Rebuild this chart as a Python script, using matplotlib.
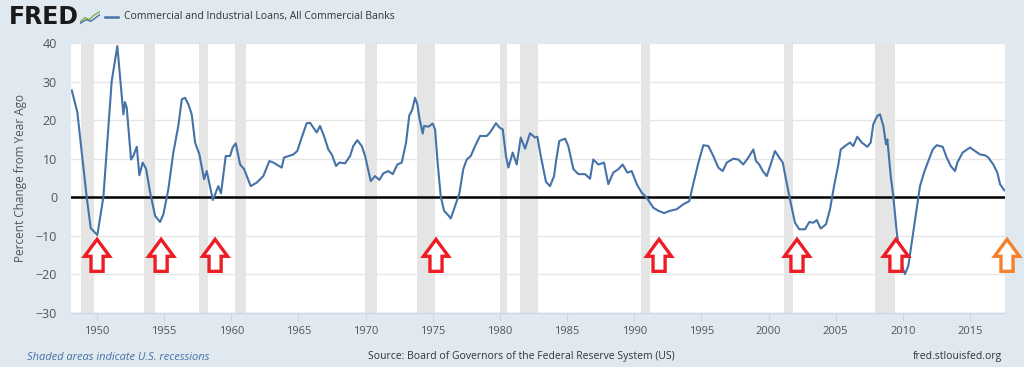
import matplotlib
matplotlib.use("Agg")
import matplotlib.pyplot as plt
from matplotlib.patches import Polygon
from matplotlib.lines import Line2D

# ---- data (decimal year, percent change from year ago) ----
years = [1948.12, 1948.53, 1949.23, 1949.53, 1950.02, 1950.47, 1951.09, 1951.51, 1951.96, 1952.08,
         1952.21, 1952.53, 1952.70, 1952.96, 1953.15, 1953.40, 1953.65, 1953.95, 1954.32, 1954.69,
         1954.94, 1955.31, 1955.68, 1956.05, 1956.31, 1956.55, 1956.80, 1957.05, 1957.30, 1957.62,
         1957.97, 1958.17, 1958.62, 1959.03, 1959.23, 1959.58, 1959.90, 1960.10, 1960.33, 1960.65,
         1960.95, 1961.44, 1961.89, 1962.38, 1962.83, 1963.13, 1963.75, 1963.92, 1964.62, 1964.91,
         1965.24, 1965.61, 1965.86, 1966.36, 1966.60, 1966.90, 1967.22, 1967.48, 1967.80, 1968.04,
         1968.47, 1968.84, 1969.08, 1969.38, 1969.71, 1969.96, 1970.38, 1970.70, 1971.02, 1971.32,
         1971.69, 1972.02, 1972.36, 1972.69, 1973.01, 1973.25, 1973.48, 1973.68, 1973.85, 1974.00,
         1974.25, 1974.35, 1974.67, 1975.00, 1975.17, 1975.34, 1975.59, 1975.84, 1976.16, 1976.34,
         1976.58, 1976.98, 1977.27, 1977.53, 1977.83, 1978.15, 1978.52, 1979.02, 1979.26, 1979.71,
         1979.96, 1980.21, 1980.45, 1980.63, 1980.95, 1981.25, 1981.55, 1981.87, 1982.24, 1982.61,
         1982.79, 1983.04, 1983.43, 1983.73, 1984.03, 1984.18, 1984.42, 1984.85, 1985.09, 1985.47,
         1985.84, 1986.34, 1986.71, 1986.95, 1987.33, 1987.75, 1988.07, 1988.44, 1988.82, 1989.14,
         1989.49, 1989.81, 1990.19, 1990.56, 1990.93, 1991.42, 1991.80, 1992.22, 1992.67, 1993.16,
         1993.66, 1994.10, 1994.36, 1994.78, 1995.15, 1995.52, 1995.89, 1996.26, 1996.59, 1996.89,
         1997.38, 1997.75, 1998.12, 1998.50, 1998.87, 1999.07, 1999.31, 1999.57, 1999.87, 2000.16,
         2000.48, 2000.80, 2001.06, 2001.40, 2001.65, 2001.97, 2002.29, 2002.72, 2003.04, 2003.34,
         2003.59, 2003.89, 2004.28, 2004.58, 2004.88, 2005.20, 2005.38, 2005.70, 2006.07, 2006.31,
         2006.61, 2006.94, 2007.36, 2007.61, 2007.80, 2008.10, 2008.30, 2008.55, 2008.75, 2008.85,
         2009.10, 2009.29, 2009.55, 2009.84, 2010.16, 2010.41, 2010.74, 2011.04, 2011.28, 2011.58,
         2011.90, 2012.23, 2012.52, 2012.97, 2013.27, 2013.57, 2013.89, 2014.06, 2014.46, 2015.00,
         2015.37, 2015.75, 2016.12, 2016.37, 2016.74, 2017.04, 2017.24, 2017.56]
values = [27.7, 22.1, 0.0, -8.0, -9.8, 0.0, 30.1, 39.2, 21.5, 24.7,
          23.2, 9.8, 10.7, 13.1, 5.7, 9.0, 7.4, 1.3, -4.8, -6.4,
          -4.4, 2.1, 11.6, 18.5, 25.4, 25.8, 24.1, 21.5, 14.2, 11.1,
          4.7, 6.8, -0.7, 2.9, 1.0, 10.7, 10.7, 12.9, 14.0, 8.5,
          7.3, 2.9, 3.8, 5.5, 9.4, 9.0, 7.7, 10.3, 11.1, 12.0,
          15.5, 19.2, 19.3, 16.8, 18.5, 15.9, 12.4, 11.1, 8.1, 9.0,
          8.8, 10.7, 13.3, 14.8, 13.3, 10.7, 4.2, 5.5, 4.5, 6.2,
          6.8, 6.0, 8.5, 9.0, 14.2, 21.2, 22.8, 25.8, 24.1, 20.6,
          16.5, 18.5, 18.3, 19.1, 17.6, 9.8, 0.3, -3.5, -4.7, -5.5,
          -3.1, 1.0, 7.3, 9.8, 10.7, 13.3, 15.9, 15.9, 16.8, 19.2,
          18.1, 17.6, 10.7, 7.7, 11.6, 8.5, 15.5, 12.6, 16.6, 15.5,
          15.7, 10.7, 4.0, 2.9, 5.5, 9.4, 14.6, 15.2, 13.3, 7.3,
          6.0, 6.0, 4.8, 9.8, 8.5, 9.0, 3.4, 6.4, 7.3, 8.5,
          6.4, 6.8, 3.4, 1.2, -0.1, -2.7, -3.5, -4.1, -3.5, -3.1,
          -1.8, -1.0, 2.9, 9.0, 13.5, 13.3, 10.7, 7.7, 6.8, 9.0,
          10.0, 9.8, 8.5, 10.3, 12.4, 9.4, 8.5, 6.8, 5.5, 8.5,
          12.0, 10.3, 9.0, 2.9, -1.4, -6.6, -8.3, -8.3, -6.4, -6.6,
          -5.9, -8.1, -7.0, -3.1, 2.9, 8.5, 12.4, 13.3, 14.2, 13.3,
          15.7, 14.2, 13.1, 14.2, 18.9, 21.1, 21.5, 18.5, 13.7, 15.0,
          5.5, 0.3, -9.1, -16.9, -19.9, -17.8, -10.0, -3.1, 2.9, 6.4,
          9.4, 12.4, 13.5, 13.1, 10.3, 8.1, 6.8, 9.0, 11.6, 12.9,
          12.0, 11.1, 10.9, 10.3, 8.5, 6.4, 3.4, 1.8]

# NBER recessions (start, end) as decimal years
rec_start = [1948.83, 1953.50, 1957.58, 1960.25, 1969.92, 1973.83, 1980.00, 1981.50, 1990.50, 2001.17, 2007.92]
rec_end   = [1949.75, 1954.33, 1958.25, 1961.08, 1970.83, 1975.17, 1980.50, 1982.83, 1991.17, 2001.83, 2009.42]

# annotation arrows (x positions in years)
red_arrow_years = [1950.0, 1954.77, 1958.79, 1975.24, 1991.85, 2002.12, 2009.49]
orange_arrow_years = [2017.76]

yticks = [40, 30, 20, 10, 0, -10, -20, -30]
xticks = [1950, 1955, 1960, 1965, 1970, 1975, 1980, 1985, 1990, 1995, 2000, 2005, 2010, 2015]

title = "Commercial and Industrial Loans, All Commercial Banks"
ylabel = "Percent Change from Year Ago"
note = "Shaded areas indicate U.S. recessions"
source = "Source: Board of Governors of the Federal Reserve System (US)"
site = "fred.stlouisfed.org"

BG = "#e1e9f0"
LINE = "#4572a7"
TXT = "#555555"

fig = plt.figure(figsize=(10.24, 3.67), dpi=100, facecolor=BG)
ax = fig.add_axes([71/1024, 1 - 313/367, (1005-71)/1024, (313-43)/367])
ax.set_facecolor("white")

for s, e in zip(rec_start, rec_end):
    ax.axvspan(s, e, color="#e5e5e5", lw=0, zorder=0)

for yv in yticks:
    ax.axhline(yv, color="#e6e6e6", lw=1, zorder=0.5)

ax.axhline(0, color="black", lw=1.8, zorder=2)
ax.plot(years, values, color=LINE, lw=1.5, zorder=3)

ax.set_xlim(1948.06, 2017.61)
ax.set_ylim(-30, 40)
ax.set_yticks(yticks)
ax.set_xticks(xticks)
ax.tick_params(axis="y", length=0, labelsize=9, labelcolor=TXT, pad=10)
ax.tick_params(axis="x", length=6, color="#ccd6eb", labelsize=8, labelcolor=TXT, pad=3)
for lab in ax.get_xticklabels() + ax.get_yticklabels():
    lab.set_family("Open Sans")
for side in ["top", "right", "left"]:
    ax.spines[side].set_visible(False)
ax.spines["bottom"].set_color("#ccd6eb")
ax.spines["bottom"].set_linewidth(1)

ax.set_ylabel(ylabel, fontsize=8.5, color=TXT, family="Open Sans", labelpad=6)

# hollow block arrows
def block_arrow(xc, color):
    hw, sw = 0.93, 0.45      # half head width, half shaft width (years)
    tip, neck, base = -10.9, -15.3, -19.2
    pts = [(xc, tip), (xc + hw, neck), (xc + sw, neck), (xc + sw, base),
           (xc - sw, base), (xc - sw, neck), (xc - hw, neck)]
    ax.add_patch(Polygon(pts, closed=True, facecolor="white", edgecolor=color,
                         lw=2.4, joinstyle="miter", zorder=4, clip_on=False))

for xa in red_arrow_years:
    block_arrow(xa, "#ee1c24")
for xa in orange_arrow_years:
    block_arrow(xa, "#f7802a")

# header
fig.text(9/1024, 1 - 17/367, "FRED", fontsize=17, weight="heavy", color="#1a1a1a",
         va="center", ha="left", family="DejaVu Sans")
icon = fig.add_axes([80/1024, 1 - 25/367, 20/1024, 15/367])
icon.set_facecolor("#dde6ee")
icon.plot([0, 0.25, 0.45, 0.7, 1.0], [0.2, 0.5, 0.35, 0.65, 0.9], color="#7fae4f", lw=1)
icon.plot([0, 0.3, 0.55, 0.8, 1.0], [0.1, 0.35, 0.25, 0.5, 0.7], color="#4572a7", lw=1)
icon.set_xlim(0, 1); icon.set_ylim(0, 1); icon.axis("off")

fig.add_artist(Line2D([105/1024, 118/1024], [1 - 17/367, 1 - 17/367], color=LINE, lw=1.8))
fig.text(124/1024, 1 - 17/367, title, fontsize=7.5, color="#333333",
         va="center", ha="left", family="Open Sans")

# footer
fig.text(27/1024, 1 - 357/367, note, fontsize=8, style="italic", color=LINE,
         va="center", ha="left", family="Open Sans")
fig.text(521/1024, 1 - 357/367, source, fontsize=7.5, color="#333333",
         va="center", ha="center", family="Open Sans")
fig.text(1002/1024, 1 - 357/367, site, fontsize=7.5, color="#333333",
         va="center", ha="right", family="Open Sans")

fig.savefig("out.png", dpi=100, facecolor=BG)
